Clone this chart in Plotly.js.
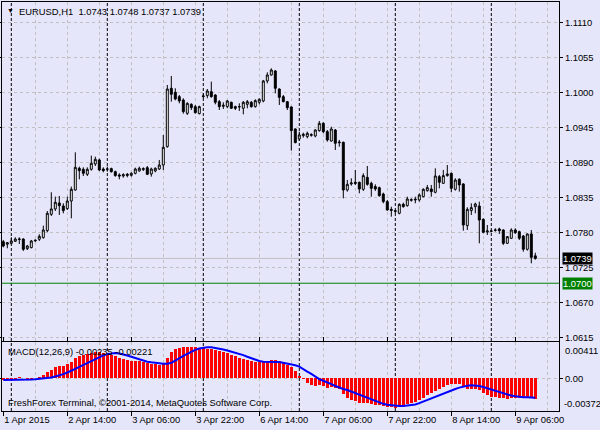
<!DOCTYPE html>
<html><head><meta charset="utf-8">
<script src="https://cdn.plot.ly/plotly-3.0.1.min.js"></script>
<style>html,body{margin:0;padding:0;background:#E6E6FA;}#chart{width:600px;height:430px;}</style>
</head><body><div id="chart"></div>
<script>
// ---- texts ----
const symbolTitle = 'EURUSD,H1  1.0743 1.0748 1.0737 1.0739';
const macdTitle = 'MACD(12,26,9) -0.00235 -0.00221';
const footerText = 'FreshForex Terminal, \u00A92001-2014, MetaQuotes Software Corp.';

// ---- time axis (H1 bars, 1 Apr 2015 22:00 .. 9 Apr 2015 11:00) ----
const timeTickBars = [0, 16, 32, 48, 64, 80, 96, 112, 128];
const timeTickText = ['1 Apr 2015', '2 Apr 14:00', '3 Apr 06:00', '3 Apr 22:00', '6 Apr 14:00',
                      '7 Apr 06:00', '7 Apr 22:00', '8 Apr 14:00', '9 Apr 06:00'];
const daySeparatorBars = [2, 26, 50, 74, 98, 122];

// ---- price axis ----
const priceTicks = [1.0615, 1.0670, 1.0725, 1.0780, 1.0835, 1.0890, 1.0945, 1.1000, 1.1055, 1.1110];
const bidPrice = 1.0739;
const levelPrice = 1.0700;
const macdScaleMax = 0.00411;
const macdScaleMin = -0.00372;

// ---- OHLC ----
const open = [1.07653,1.07612,1.07627,1.07659,1.07695,1.07695,1.07543,1.07559,1.07664,1.07690,
1.07716,1.07826,1.08083,1.08167,1.08261,1.08214,1.08172,1.08292,1.08465,1.08806,
1.08790,1.08712,1.08790,1.08874,1.08937,1.08795,1.08790,1.08801,1.08753,1.08701,
1.08685,1.08712,1.08696,1.08727,1.08764,1.08785,1.08816,1.08717,1.08764,1.08795,
1.08858,1.09146,1.10063,1.10000,1.09932,1.09879,1.09670,1.09811,1.09775,1.09665,
1.09932,1.09948,1.10010,1.09958,1.09853,1.09780,1.09775,1.09843,1.09775,1.09770,
1.09749,1.09811,1.09843,1.09775,1.09843,1.09864,1.10178,1.10272,1.10335,1.10052,
1.09932,1.09853,1.09770,1.09424,1.09267,1.09319,1.09303,1.09324,1.09314,1.09398,
1.09513,1.09382,1.09235,1.09408,1.09220,1.09215,1.08465,1.08560,1.08586,1.08586,
1.08476,1.08664,1.08570,1.08518,1.08502,1.08402,1.08282,1.08161,1.08140,1.08099,
1.08240,1.08219,1.08303,1.08308,1.08308,1.08360,1.08455,1.08481,1.08429,1.08675,
1.08570,1.08691,1.08727,1.08476,1.08633,1.08560,1.07905,1.08141,1.08203,1.08214,
1.08004,1.07805,1.07816,1.07831,1.07852,1.07837,1.07627,1.07706,1.07837,1.07810,
1.07742,1.07533,1.07774,1.07430];
const high = [1.07680,1.07648,1.07722,1.07722,1.07722,1.07706,1.07601,1.07680,1.07690,1.07769,
1.07905,1.08135,1.08429,1.08361,1.08371,1.08256,1.08361,1.08518,1.09057,1.08832,
1.08821,1.08821,1.09005,1.08989,1.08958,1.08821,1.08832,1.08816,1.08769,1.08727,
1.08727,1.08732,1.08743,1.08816,1.08832,1.08821,1.08842,1.08816,1.08821,1.08937,
1.09330,1.10115,1.10257,1.10063,1.09958,1.09906,1.09843,1.09827,1.09801,1.09790,
1.09984,1.10052,1.10168,1.09969,1.09879,1.09843,1.09879,1.09853,1.09790,1.09827,
1.09864,1.09879,1.09864,1.09890,1.09906,1.10194,1.10314,1.10377,1.10351,1.10063,
1.09958,1.09864,1.09780,1.09434,1.09382,1.09366,1.09382,1.09356,1.09419,1.09550,
1.09529,1.09408,1.09460,1.09424,1.09251,1.09225,1.08622,1.08649,1.08780,1.08596,
1.08727,1.08842,1.08596,1.08554,1.08518,1.08423,1.08308,1.08203,1.08151,1.08256,
1.08266,1.08360,1.08334,1.08360,1.08413,1.08491,1.08544,1.08544,1.08806,1.08701,
1.08780,1.08858,1.08738,1.08649,1.08649,1.08570,1.08193,1.08256,1.08266,1.08282,
1.08020,1.07915,1.07837,1.07863,1.07873,1.07847,1.07742,1.07863,1.07863,1.07826,
1.07758,1.07784,1.07837,1.07480];
const low = [1.07564,1.07549,1.07612,1.07648,1.07617,1.07507,1.07522,1.07549,1.07653,1.07664,
1.07701,1.07800,1.08057,1.08135,1.08073,1.08099,1.08151,1.08020,1.08455,1.08633,
1.08685,1.08685,1.08769,1.08842,1.08764,1.08743,1.08753,1.08738,1.08675,1.08633,
1.08659,1.08665,1.08675,1.08711,1.08753,1.08764,1.08701,1.08675,1.08743,1.08779,
1.08779,1.09130,1.09853,1.09874,1.09827,1.09665,1.09644,1.09722,1.09665,1.09654,
1.09906,1.09906,1.09916,1.09811,1.09722,1.09738,1.09749,1.09738,1.09722,1.09707,
1.09654,1.09749,1.09759,1.09759,1.09811,1.09843,1.10141,1.10262,1.09984,1.09801,
1.09843,1.09722,1.09083,1.09199,1.09235,1.09288,1.09277,1.09303,1.09293,1.09382,
1.09356,1.09225,1.09225,1.09094,1.09146,1.08334,1.08439,1.08533,1.08544,1.08413,
1.08450,1.08533,1.08360,1.08450,1.08360,1.08256,1.08140,1.08046,1.08099,1.08083,
1.08188,1.08203,1.08282,1.08256,1.08282,1.08350,1.08439,1.08360,1.08413,1.08491,
1.08560,1.08675,1.08429,1.08455,1.08439,1.07826,1.07837,1.08072,1.08099,1.07627,
1.07784,1.07758,1.07800,1.07810,1.07774,1.07601,1.07617,1.07695,1.07774,1.07680,
1.07496,1.07512,1.07313,1.07370];
const close = [1.07585,1.07638,1.07664,1.07695,1.07690,1.07533,1.07585,1.07664,1.07674,1.07737,
1.07837,1.08099,1.08167,1.08272,1.08219,1.08141,1.08292,1.08476,1.08821,1.08769,
1.08727,1.08790,1.08884,1.08947,1.08780,1.08769,1.08795,1.08753,1.08691,1.08685,
1.08706,1.08696,1.08727,1.08795,1.08806,1.08801,1.08711,1.08795,1.08806,1.08858,
1.09136,1.10052,1.09969,1.09895,1.09864,1.09696,1.09827,1.09759,1.09680,1.09775,
1.09942,1.10021,1.09932,1.09843,1.09775,1.09796,1.09864,1.09749,1.09749,1.09775,
1.09843,1.09853,1.09775,1.09869,1.09890,1.10178,1.10272,1.10351,1.10063,1.09921,
1.09853,1.09759,1.09398,1.09209,1.09330,1.09340,1.09356,1.09335,1.09408,1.09513,
1.09382,1.09251,1.09424,1.09199,1.09209,1.08465,1.08554,1.08575,1.08570,1.08481,
1.08691,1.08554,1.08491,1.08481,1.08376,1.08282,1.08151,1.08146,1.08130,1.08240,
1.08203,1.08324,1.08313,1.08319,1.08387,1.08476,1.08502,1.08439,1.08685,1.08586,
1.08691,1.08717,1.08491,1.08622,1.08544,1.07915,1.08161,1.08188,1.08245,1.07994,
1.07800,1.07821,1.07821,1.07837,1.07826,1.07627,1.07732,1.07837,1.07795,1.07706,
1.07533,1.07774,1.07407,1.07390];

// ---- MACD(12,26,9): main (histogram) and signal ----
const macdMain = [-0.00019,-0.00019,-0.00015,-0.00004,0.00011,0.00004,-0.00019,-0.00011,0.00008,0.00019,
0.00041,0.00071,0.00102,0.00128,0.00139,0.00139,0.00165,0.00188,0.00233,0.00252,
0.00267,0.00278,0.00290,0.00305,0.00301,0.00290,0.00282,0.00271,0.00252,0.00229,
0.00218,0.00207,0.00203,0.00203,0.00196,0.00188,0.00177,0.00169,0.00162,0.00158,
0.00177,0.00237,0.00301,0.00335,0.00353,0.00361,0.00365,0.00365,0.00361,0.00353,
0.00346,0.00342,0.00338,0.00327,0.00312,0.00297,0.00286,0.00271,0.00256,0.00237,
0.00222,0.00211,0.00199,0.00192,0.00184,0.00188,0.00203,0.00214,0.00211,0.00196,
0.00177,0.00150,0.00128,0.00083,0.00026,-0.00011,-0.00049,-0.00075,-0.00086,-0.00079,
-0.00086,-0.00105,-0.00094,-0.00109,-0.00124,-0.00180,-0.00218,-0.00244,-0.00259,-0.00278,
-0.00282,-0.00282,-0.00293,-0.00301,-0.00305,-0.00312,-0.00323,-0.00331,-0.00338,-0.00331,
-0.00312,-0.00293,-0.00282,-0.00267,-0.00244,-0.00218,-0.00192,-0.00165,-0.00143,-0.00117,
-0.00094,-0.00079,-0.00068,-0.00068,-0.00060,-0.00094,-0.00117,-0.00117,-0.00117,-0.00128,
-0.00162,-0.00184,-0.00207,-0.00211,-0.00218,-0.00226,-0.00233,-0.00229,-0.00218,-0.00218,
-0.00226,-0.00218,-0.00222,-0.00235];
const macdSignal = [-0.00019,-0.00019,-0.00019,-0.00019,-0.00015,-0.00015,-0.00015,-0.00011,-0.00008,-0.00004,
0.00000,0.00004,0.00011,0.00023,0.00034,0.00049,0.00068,0.00086,0.00109,0.00132,
0.00154,0.00180,0.00203,0.00226,0.00248,0.00263,0.00278,0.00286,0.00290,0.00286,
0.00278,0.00263,0.00248,0.00233,0.00218,0.00203,0.00192,0.00184,0.00177,0.00173,
0.00169,0.00169,0.00180,0.00203,0.00233,0.00259,0.00282,0.00308,0.00327,0.00342,
0.00353,0.00357,0.00357,0.00350,0.00342,0.00331,0.00320,0.00308,0.00297,0.00282,
0.00267,0.00248,0.00229,0.00211,0.00199,0.00192,0.00188,0.00188,0.00188,0.00188,
0.00180,0.00173,0.00162,0.00150,0.00135,0.00102,0.00079,0.00053,0.00023,-0.00008,
-0.00026,-0.00041,-0.00064,-0.00086,-0.00105,-0.00120,-0.00132,-0.00150,-0.00165,-0.00188,
-0.00207,-0.00226,-0.00244,-0.00259,-0.00278,-0.00290,-0.00301,-0.00308,-0.00312,-0.00316,
-0.00316,-0.00312,-0.00308,-0.00297,-0.00282,-0.00263,-0.00248,-0.00229,-0.00214,-0.00196,
-0.00173,-0.00154,-0.00135,-0.00120,-0.00105,-0.00090,-0.00083,-0.00079,-0.00079,-0.00086,
-0.00098,-0.00113,-0.00124,-0.00139,-0.00150,-0.00165,-0.00180,-0.00196,-0.00203,-0.00211,
-0.00214,-0.00214,-0.00218,-0.00221];

// ---- build ----
const bars = open.map((_, i) => i);
const gridBars = [];
for (let b = 8; b < 139; b += 8) gridBars.push(b);

const BG = '#E6E6FA';
const GRID = '#C0C0C0';
const FONT = {family: 'Liberation Sans, Arial, sans-serif', size: 9.4, color: '#000000'};

const traces = [
  {
    type: 'candlestick', x: bars, open: open, high: high, low: low, close: close,
    xaxis: 'x', yaxis: 'y', whiskerwidth: 0,
    increasing: {line: {color: '#000000', width: 1}, fillcolor: '#FFFFFF'},
    decreasing: {line: {color: '#000000', width: 1}, fillcolor: '#000000'},
    hoverinfo: 'skip', showlegend: false
  },
  {
    type: 'bar', x: bars, y: macdMain, xaxis: 'x', yaxis: 'y2', width: 0.75,
    marker: {color: '#FF0000', line: {width: 0}}, hoverinfo: 'skip', showlegend: false
  },
  {
    type: 'scatter', mode: 'lines', x: bars, y: macdSignal, xaxis: 'x', yaxis: 'y2',
    line: {color: '#0000FF', width: 2}, hoverinfo: 'skip', showlegend: false
  }
];

const shapes = [];
daySeparatorBars.forEach(b => shapes.push({
  type: 'line', xref: 'x', yref: 'paper', x0: b, x1: b, y0: 0, y1: 1,
  line: {color: '#000000', width: 1, dash: '3px,2px'}, layer: 'between'
}));
shapes.push({type: 'line', xref: 'paper', yref: 'y', x0: 0, x1: 1, y0: bidPrice, y1: bidPrice,
  line: {color: GRID, width: 1}, layer: 'between'});
shapes.push({type: 'line', xref: 'paper', yref: 'y', x0: 0, x1: 1, y0: levelPrice, y1: levelPrice,
  line: {color: '#008000', width: 1}, layer: 'above'});

const annotations = [
  {xref: 'paper', yref: 'paper', x: 0.0055, y: 1, xanchor: 'left', yanchor: 'top', yshift: -3,
   text: '\u25BC', showarrow: false, font: {family: FONT.family, size: 7, color: '#000000'}},
  {xref: 'paper', yref: 'paper', x: 0.027, y: 1, xanchor: 'left', yanchor: 'top', yshift: -2,
   text: symbolTitle, showarrow: false, font: FONT},
  {xref: 'paper', yref: 'paper', x: 0.008, y: 0.1675, xanchor: 'left', yanchor: 'top', yshift: -2,
   text: macdTitle, showarrow: false, font: FONT},
  {xref: 'paper', yref: 'paper', x: 0.008, y: 0, xanchor: 'left', yanchor: 'bottom', yshift: 1,
   text: footerText, showarrow: false, font: FONT},
  {xref: 'paper', yref: 'y', x: 1, y: bidPrice, xanchor: 'left', yanchor: 'middle', xshift: 3,
   text: bidPrice.toFixed(4), showarrow: false, bgcolor: '#000000', borderpad: 0,
   font: {family: FONT.family, size: 9.4, color: '#FFFFFF'}},
  {xref: 'paper', yref: 'y', x: 1, y: levelPrice, xanchor: 'left', yanchor: 'middle', xshift: 3,
   text: levelPrice.toFixed(4), showarrow: false, bgcolor: '#008000', borderpad: 0,
   font: {family: FONT.family, size: 9.4, color: '#FFFFFF'}},
  {xref: 'paper', yref: 'y2', x: 1, y: macdScaleMax, xanchor: 'left', yanchor: 'top', xshift: 4, yshift: -1,
   text: macdScaleMax.toFixed(5), showarrow: false, font: FONT},
  {xref: 'paper', yref: 'y2', x: 1, y: macdScaleMin, xanchor: 'left', yanchor: 'bottom', xshift: 3, yshift: 0,
   text: macdScaleMin.toFixed(5), showarrow: false, font: FONT}
];

const layout = {
  width: 600, height: 430,
  margin: {l: 2, r: 41, t: 2, b: 19, pad: 0},
  paper_bgcolor: BG, plot_bgcolor: BG,
  font: FONT, showlegend: false, hovermode: false, dragmode: false,
  bargap: 0,
  xaxis: {
    domain: [0, 1], anchor: 'y2', range: [-0.325, 138.925],
    showline: true, linecolor: '#000000', linewidth: 1, mirror: 'all',
    tickmode: 'array', tickvals: timeTickBars, ticktext: timeTickText,
    ticks: 'outside', ticklen: 4, tickcolor: '#000000', tickwidth: 1,
    ticklabelposition: 'outside right', tickfont: FONT,
    showgrid: false, zeroline: false,
    minor: {tickmode: 'array', tickvals: gridBars, showgrid: true, gridcolor: GRID,
            griddash: '3px,3px', gridwidth: 1, ticks: ''},
    rangeslider: {visible: false}, fixedrange: true
  },
  yaxis: {
    domain: [0.1711, 1], anchor: 'x', side: 'right', range: [1.06092, 1.11419],
    tickmode: 'array', tickvals: priceTicks, tickformat: '.4f',
    ticks: 'outside', ticklen: 3, tickcolor: '#000000', tickfont: FONT,
    showline: true, linecolor: '#000000', linewidth: 1, mirror: 'all',
    showgrid: true, gridcolor: GRID, griddash: '3px,3px', gridwidth: 1,
    zeroline: false, fixedrange: true
  },
  yaxis2: {
    domain: [0, 0.1675], anchor: 'x', side: 'right', range: [macdScaleMin, macdScaleMax],
    tickmode: 'array', tickvals: [0], ticktext: ['0.00'],
    ticks: 'outside', ticklen: 3, tickcolor: '#000000', tickfont: FONT,
    showline: true, linecolor: '#000000', linewidth: 1, mirror: 'all',
    showgrid: true, gridcolor: GRID, griddash: '3px,3px', gridwidth: 1,
    zeroline: false, fixedrange: true
  },
  shapes: shapes,
  annotations: annotations
};

Plotly.newPlot('chart', traces, layout, {staticPlot: true, displayModeBar: false});
</script>
</body></html>
